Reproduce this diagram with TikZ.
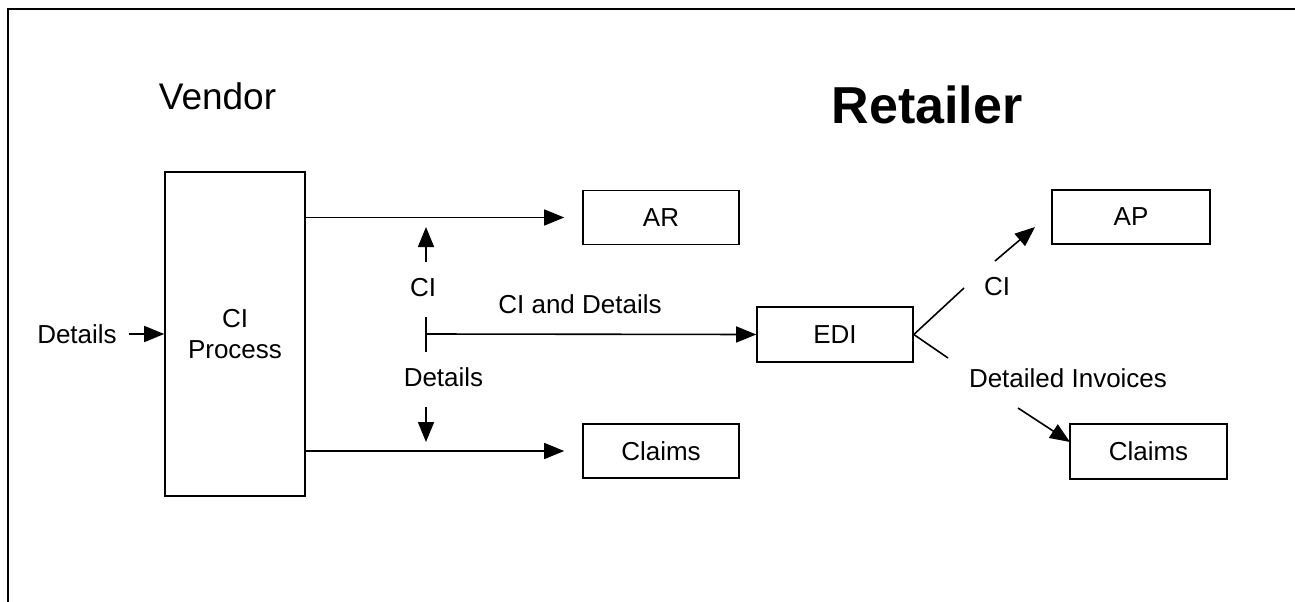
\documentclass[tikz,border=0pt]{standalone}
\usepackage{fontspec}
\setmainfont{Liberation Sans}
\usetikzlibrary{arrows.meta}
\begin{document}
\begin{tikzpicture}[x=1pt,y=-1pt,
  every node/.style={font=\fontsize{26}{31}\selectfont, inner sep=0pt},
  box/.style={draw, line width=1.6pt, minimum width=156pt, minimum height=54pt},
  conn/.style={line width=1.6pt},
  arr/.style={conn, -{Triangle[length=20pt,width=16pt]}}]
\path[use as bounding box, clip] (0,0) rectangle (1295,602);
\fill[white] (0,0) rectangle (1295,602);
\draw[line width=2pt] (8,9) rectangle (1320,630);
% titles
\node[anchor=base, font=\fontsize{37}{44}\selectfont] (vendor) at (217.5,109) {Vendor};
\node[anchor=base, font=\fontsize{52}{60}\selectfont\bfseries] (retailer) at (927,123) {Retailer};
% boxes
\node[draw, line width=1.6pt, minimum width=140pt, minimum height=324pt, align=center] (cip) at (235,334) {CI\\Process};
\node[box] (ar) at (661,217.5) {AR};
\node[box] (clL) at (661,451) {Claims};
\node[box, minimum height=55pt] (edi) at (835,334.5) {EDI};
\node[box, minimum width=158pt] (ap) at (1131,217) {AP};
\node[box, minimum width=157pt, minimum height=55pt] (clR) at (1148.5,451.5) {Claims};
% labels
\node[anchor=base] (ldet) at (77,343) {Details};
\node[anchor=base] (lci) at (423,296) {CI};
\node[anchor=base] (lcid) at (580,313) {CI and Details};
\node[anchor=base] (ldet2) at (443.5,386) {Details};
\node[anchor=base] (lci2) at (997,295) {CI};
\node[anchor=base] (ldi) at (1068,387) {Detailed Invoices};
% coordinates
\coordinate (dstart) at (129,334);
\coordinate (j) at (426,334);
\coordinate (ju) at (426,317);
\coordinate (jd) at (426,352);
\coordinate (ups) at (426,262);
\coordinate (upe) at (426,227);
\coordinate (dns) at (426,407);
\coordinate (dne) at (426,442);
\coordinate (r1) at (964,288);
\coordinate (r2) at (995,261);
\coordinate (r3) at (1035,227);
\coordinate (s1) at (948,358);
\coordinate (s2) at (1018,408);
\coordinate (s3) at (1070,442);
% connectors
\draw[arr] (dstart) -- (cip.west |- dstart);
\draw[arr, shorten >=18pt] (cip.east |- ar.west) -- (ar.west);
\draw[arr, shorten >=18pt] (cip.east |- clL.west) -- (clL.west);
\draw[arr] (ups) -- (upe);
\draw[arr] (dns) -- (dne);
\draw[conn] (ju) -- (jd);
\draw[arr] (j) -- (edi.west);
\draw[conn] (edi.east) -- (r1);
\draw[arr] (r2) -- (r3);
\draw[conn] (edi.east) -- (s1);
\draw[arr] (s2) -- (s3);
\end{tikzpicture}
\end{document}
